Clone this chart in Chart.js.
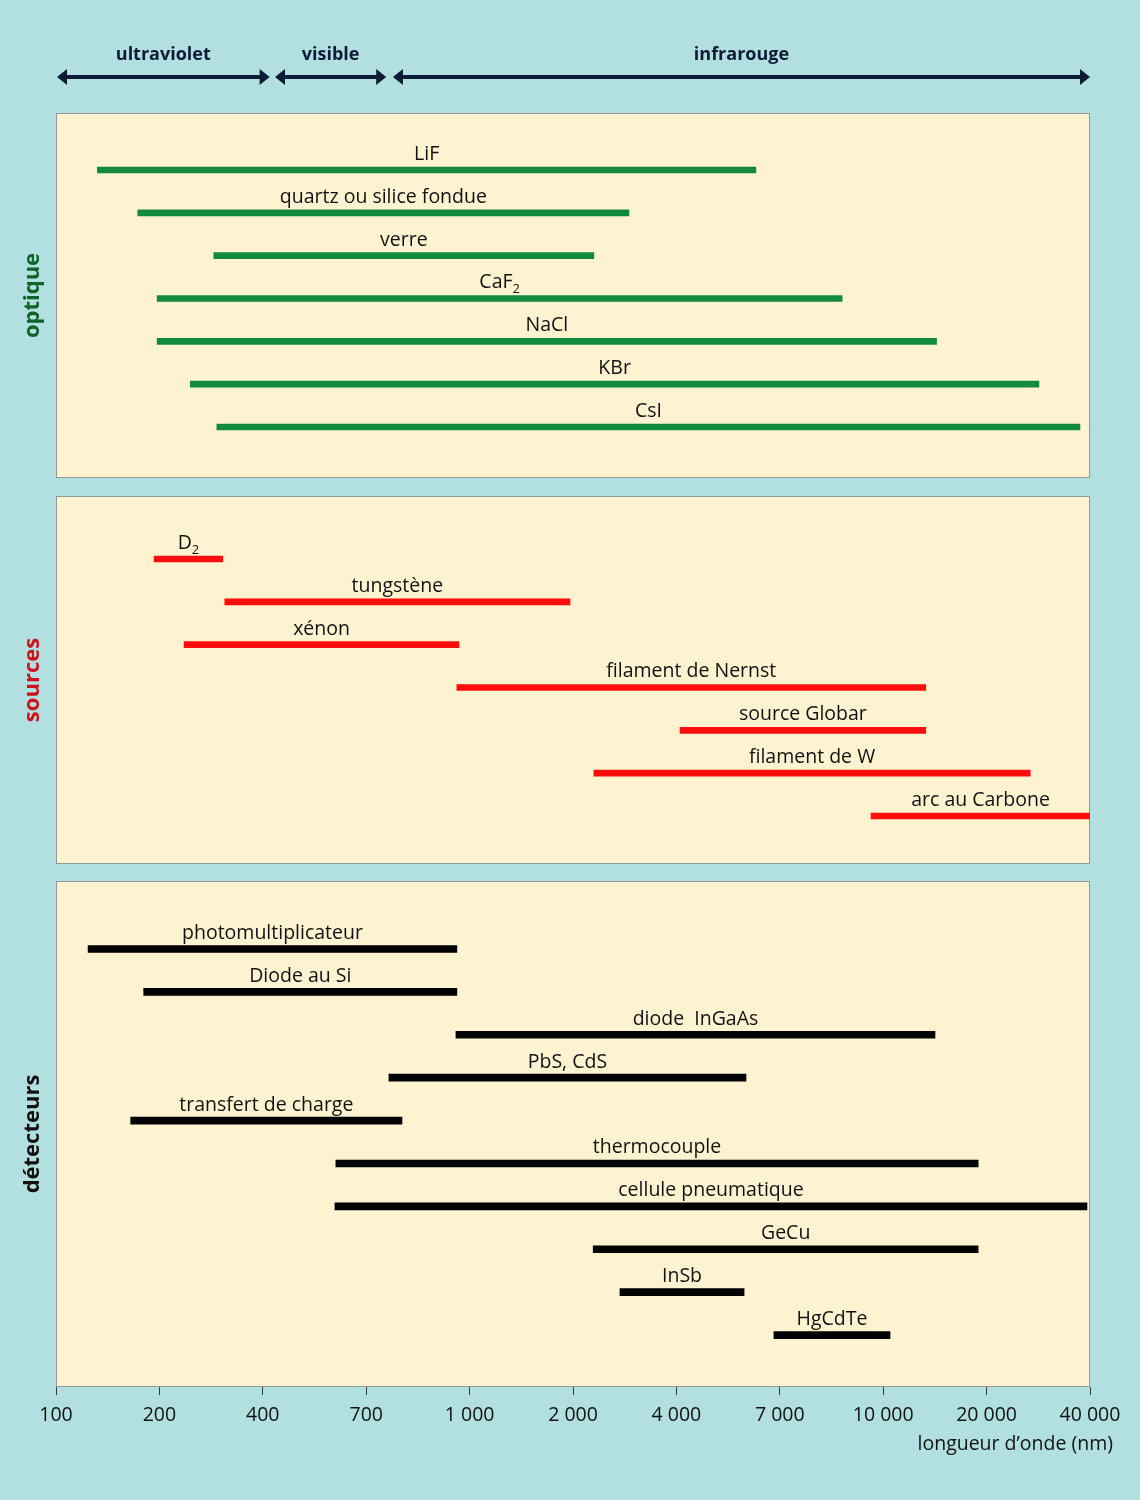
<!DOCTYPE html>
<html lang="fr">
<head>
<meta charset="utf-8">
<title>Domaines spectraux</title>
<script src="https://cdn.jsdelivr.net/npm/chart.js@4.4.1/dist/chart.umd.min.js"></script>
<style>
  html, body { margin: 0; padding: 0; }
  body { width: 1140px; height: 1500px; background: #b2dfe0; position: relative; overflow: hidden; }
  .panel { position: absolute; left: 0; width: 1140px; }
</style>
</head>
<body>
<div class="panel" style="top:0;height:480px"><canvas id="optique"></canvas></div>
<div class="panel" style="top:490px;height:380px"><canvas id="sources"></canvas></div>
<div class="panel" style="top:875px;height:625px"><canvas id="detecteurs"></canvas></div>
<script>
// graduations (nm), espacées régulièrement sur l'axe
const tickValues = [100, 200, 400, 700, 1000, 2000, 4000, 7000, 10000, 20000, 40000];
const tickLabels = ["100", "200", "400", "700", "1\u00a0000", "2\u00a0000", "4\u00a0000", "7\u00a0000", "10\u00a0000", "20\u00a0000", "40\u00a0000"];

const bandNames = ["ultraviolet", "visible", "infrarouge"];
const bandStart = [100, 425, 765];
const bandEnd = [415, 750, 40000];

const optiqueNames = ["LiF", "quartz ou silice fondue", "verre", "CaF\u2082", "NaCl", "KBr", "CsI"];
const optiqueStart = [132, 173, 288, 197, 197, 246, 294];
const optiqueEnd = [6150, 2910, 2300, 8680, 14300, 28400, 37400];

const sourcesNames = ["D\u2082", "tungstène", "xénon", "filament de Nernst", "source Globar", "filament de W", "arc au Carbone"];
const sourcesStart = [193, 310, 236, 957, 4080, 2300, 9590];
const sourcesEnd = [306, 1960, 964, 13300, 13300, 26800, 40000];

const detecteursNames = ["photomultiplicateur", "Diode au Si", "diode  InGaAs", "PbS, CdS", "transfert de charge",
  "thermocouple", "cellule pneumatique", "GeCu", "InSb", "HgCdTe"];
const detecteursStart = [124, 180, 954, 757, 165, 594, 591, 2290, 2740, 6780];
const detecteursEnd = [957, 957, 14150, 5830, 792, 18900, 39200, 18900, 5770, 10470];

const FONT = '"Open Sans", "DejaVu Sans", sans-serif';
const INK = '#111111';
const NAVY = '#0d1b36';

// échelle logarithmique par morceaux : chaque graduation à égale distance
class SegmentScale extends Chart.LinearScale {
  static id = 'segment';
  static defaults = {};
  determineDataLimits() {
    this.min = tickValues[0];
    this.max = tickValues[tickValues.length - 1];
  }
  buildTicks() {
    return tickValues.map(v => ({ value: v }));
  }
  segmentIndex(value) {
    const n = tickValues.length - 1;
    let i = 0;
    while (i < n - 1 && value > tickValues[i + 1]) i++;
    return i + Math.log(value / tickValues[i]) / Math.log(tickValues[i + 1] / tickValues[i]);
  }
  getPixelForValue(value) {
    return this.getPixelForDecimal(this.segmentIndex(value) / (tickValues.length - 1));
  }
  getValueForPixel(pixel) {
    const p = this.getDecimalForPixel(pixel) * (tickValues.length - 1);
    const i = Math.max(0, Math.min(tickValues.length - 2, Math.floor(p)));
    return tickValues[i] * Math.pow(tickValues[i + 1] / tickValues[i], p - i);
  }
}
Chart.register(SegmentScale);

function drawName(ctx, name, cx, baseline) {
  const m = name.match(/^(.*?)([\u2080-\u2089]*)$/);
  const main = m[1];
  const sub = m[2].replace(/[\u2080-\u2089]/g, c => String.fromCharCode(c.charCodeAt(0) - 0x2080 + 48));
  ctx.font = '19.5px ' + FONT;
  const wMain = ctx.measureText(main).width;
  ctx.font = '13px ' + FONT;
  const wSub = sub ? ctx.measureText(sub).width : 0;
  const x0 = cx - (wMain + wSub) / 2;
  ctx.textAlign = 'left';
  ctx.textBaseline = 'alphabetic';
  ctx.font = '19.5px ' + FONT;
  ctx.fillText(main, x0, baseline);
  if (sub) {
    ctx.font = '13px ' + FONT;
    ctx.fillText(sub, x0 + wMain, baseline + 5);
  }
}

const panelPlugin = {
  id: 'panel',
  beforeDraw(chart, args, opts) {
    const { ctx, chartArea: a } = chart;
    ctx.save();
    ctx.fillStyle = '#fef3d0';
    ctx.fillRect(a.left, a.top, a.right - a.left, a.bottom - a.top);
    ctx.strokeStyle = '#8e9b99';
    ctx.lineWidth = 1;
    ctx.strokeRect(a.left + 0.5, a.top + 0.5, a.right - a.left - 1, a.bottom - a.top - 1);
    ctx.translate(33, (a.top + a.bottom) / 2);
    ctx.rotate(-Math.PI / 2);
    ctx.font = 'bold 22px ' + FONT;
    ctx.fillStyle = opts.color;
    ctx.textAlign = 'center';
    ctx.textBaseline = 'middle';
    ctx.fillText(opts.title, 0, 0);
    ctx.restore();
  },
  afterDatasetsDraw(chart, args, opts) {
    const ctx = chart.ctx;
    ctx.save();
    ctx.fillStyle = INK;
    chart.getDatasetMeta(0).data.forEach((bar, i) => {
      drawName(ctx, opts.names[i], (bar.x + bar.base) / 2, bar.y - 10);
    });
    ctx.restore();
  }
};

const bandsPlugin = {
  id: 'bands',
  afterDraw(chart) {
    const ctx = chart.ctx;
    const xs = chart.scales.x;
    const y = 77;
    ctx.save();
    ctx.fillStyle = NAVY;
    ctx.strokeStyle = NAVY;
    ctx.lineWidth = 4;
    bandNames.forEach((name, i) => {
      const x1 = xs.getPixelForValue(bandStart[i]) + 1;
      const x2 = xs.getPixelForValue(bandEnd[i]);
      ctx.beginPath();
      ctx.moveTo(x1 + 6, y);
      ctx.lineTo(x2 - 6, y);
      ctx.stroke();
      ctx.beginPath();
      ctx.moveTo(x1, y); ctx.lineTo(x1 + 10, y - 8); ctx.lineTo(x1 + 10, y + 8); ctx.closePath();
      ctx.fill();
      ctx.beginPath();
      ctx.moveTo(x2, y); ctx.lineTo(x2 - 10, y - 8); ctx.lineTo(x2 - 10, y + 8); ctx.closePath();
      ctx.fill();
      ctx.font = 'bold 18px ' + FONT;
      ctx.textAlign = 'center';
      ctx.textBaseline = 'middle';
      ctx.fillText(name, (x1 + x2) / 2, 55);
    });
    ctx.restore();
  }
};

const axisTitlePlugin = {
  id: 'axisTitle',
  afterDraw(chart) {
    const ctx = chart.ctx;
    ctx.save();
    ctx.fillStyle = INK;
    ctx.font = '19.5px ' + FONT;
    ctx.textAlign = 'right';
    ctx.textBaseline = 'middle';
    ctx.fillText('longueur d\u2019onde (nm)', chart.chartArea.right + 23, chart.chartArea.bottom + 57);
    ctx.restore();
  }
};

function makeChart(id, names, starts, ends, opt) {
  const data = names.map((n, i) => ({ x: [starts[i], ends[i]], y: i }));
  const plugins = [panelPlugin].concat(opt.extra || []);
  return new Chart(document.getElementById(id), {
    type: 'bar',
    data: {
      datasets: [{
        data: data,
        backgroundColor: opt.color,
        barThickness: opt.thickness,
        borderWidth: 0
      }]
    },
    plugins: plugins,
    options: {
      indexAxis: 'y',
      responsive: true,
      maintainAspectRatio: false,
      animation: false,
      events: [],
      layout: { padding: opt.padding },
      scales: {
        x: {
          type: 'segment',
          position: 'bottom',
          display: !!opt.axis,
          grid: { drawOnChartArea: false, drawTicks: true, tickLength: 8, color: '#3a3a3a' },
          border: { display: false },
          ticks: {
            autoSkip: false, maxRotation: 0, padding: 9, color: INK,
            font: { family: FONT, size: 19.5 },
            callback: (v, i) => tickLabels[i]
          },
          afterFit: s => { if (opt.axis) s.height = 40; }
        },
        y: {
          type: 'linear',
          display: false,
          reverse: true,
          offset: false,
          grid: { offset: false },
          min: opt.yMin,
          max: opt.yMax
        }
      },
      plugins: {
        legend: { display: false },
        tooltip: { enabled: false },
        panel: { title: opt.title, color: opt.titleColor, names: names }
      }
    }
  });
}

makeChart('optique', optiqueNames, optiqueStart, optiqueEnd, {
  color: '#128a3c', thickness: 6, title: 'optique', titleColor: '#11622b',
  padding: { left: 56, right: 50, top: 113, bottom: 2 },
  yMin: -1.33, yMax: 7.19, extra: [bandsPlugin]
});

makeChart('sources', sourcesNames, sourcesStart, sourcesEnd, {
  color: '#ff0d0d', thickness: 6, title: 'sources', titleColor: '#d0101a',
  padding: { left: 56, right: 50, top: 6, bottom: 6 },
  yMin: -1.47, yMax: 7.12
});

makeChart('detecteurs', detecteursNames, detecteursStart, detecteursEnd, {
  color: '#000000', thickness: 7, title: 'détecteurs', titleColor: '#111111',
  padding: { left: 56, right: 50, top: 6, bottom: 73 },
  yMin: -1.585, yMax: 10.21, axis: true, extra: [axisTitlePlugin]
});
</script>
</body>
</html>
